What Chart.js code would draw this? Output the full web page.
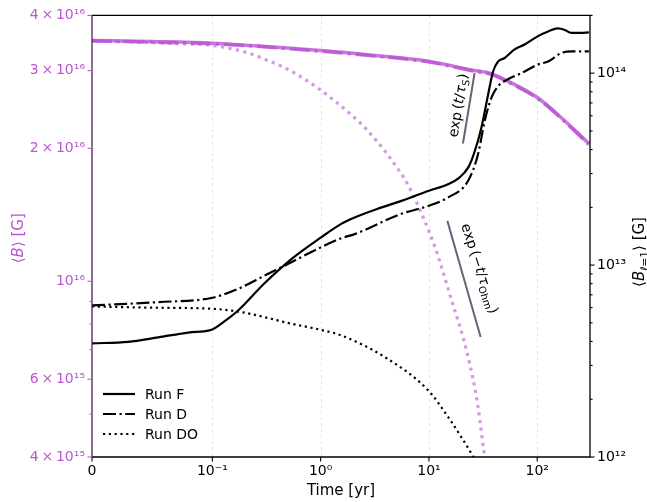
<!DOCTYPE html>
<html><head><meta charset="utf-8">
<script src="https://cdn.jsdelivr.net/npm/chart.js@4.4.0/dist/chart.umd.min.js"></script>
<style>html,body{margin:0;padding:0;background:#fff;}#wrap{width:647px;height:502px;position:relative;}</style>
</head><body><div id="wrap"><canvas id="c"></canvas></div>
<script>
// ---------------- data ----------------
// Run F, <B_l=1> (right axis)
const timeF  = [0, 0.03, 0.055, 0.08, 0.1, 0.13, 0.173, 0.3, 0.54, 1.0, 1.55, 2.06, 3.5, 5.56, 10, 15, 19, 23, 26, 30.5, 35.2, 39.1, 43.5, 50, 61.8, 76.5, 101.6, 126, 155, 180, 206, 250, 300];
const blF    = [3.91e12, 3.98e12, 4.2e12, 4.45e12, 4.62e12, 5.1e12, 5.8e12, 7.99e12, 1.077e13, 1.39e13, 1.64e13, 1.77e13, 1.98e13, 2.16e13, 2.44e13, 2.64e13, 2.85e13, 3.22e13, 3.8e13, 5.2e13, 7.75e13, 1.02e14, 1.15e14, 1.2e14, 1.33e14, 1.41e14, 1.56e14, 1.65e14, 1.71e14, 1.68e14, 1.62e14, 1.62e14, 1.63e14];
// Run D, <B_l=1>
const timeD  = [0, 0.054, 0.1, 0.173, 0.304, 0.536, 1.01, 1.55, 2.06, 5.56, 10, 15, 23, 28.4, 32.7, 37.7, 43.5, 53.2, 71.4, 101.6, 126, 165, 206, 300];
const blD    = [6.16e12, 6.41e12, 6.76e12, 7.52e12, 8.82e12, 1.035e13, 1.24e13, 1.38e13, 1.45e13, 1.85e13, 2.04e13, 2.25e13, 2.75e13, 3.78e13, 5.63e13, 7.44e13, 8.56e13, 9.27e13, 1.0e14, 1.11e14, 1.15e14, 1.27e14, 1.30e14, 1.30e14];
// Run DO, <B_l=1>
const timeDO = [0, 0.05, 0.1, 0.185, 0.536, 1.0, 1.55, 3.9, 9.8, 15, 19.9, 24.6, 27];
const blDO   = [6.09e12, 6.0e12, 5.92e12, 5.69e12, 4.95e12, 4.6e12, 4.3e12, 3.32e12, 2.23e12, 1.62e12, 1.27e12, 1.045e12, 0.95e12];
// <B> (left axis)
const timeBF  = [0, 0.05, 0.1, 1.0, 3, 9.8, 24.6, 37.7, 51.8, 101.6, 179, 300];
const bF      = [3.51e16, 3.49e16, 3.46e16, 3.33e16, 3.25e16, 3.15e16, 3.01e16, 2.95e16, 2.85e16, 2.60e16, 2.31e16, 2.05e16];
const timeBD  = [0, 0.05, 0.1, 1.0, 3, 9.8, 24.6, 37.7, 51.8, 101.6, 179, 300];
const bD      = [3.50e16, 3.48e16, 3.45e16, 3.32e16, 3.24e16, 3.14e16, 3.0e16, 2.94e16, 2.84e16, 2.59e16, 2.30e16, 2.04e16];
const timeBDO = [0, 0.05, 0.074, 0.1, 0.214, 0.327, 0.434, 0.664, 1.35, 2.73, 5.56, 6.86, 11.3, 15.5, 23, 28.4, 32.3, 35];
const bDO     = [3.51e16, 3.47e16, 3.45e16, 3.42e16, 3.29e16, 3.16e16, 3.07e16, 2.90e16, 2.56e16, 2.19e16, 1.75e16, 1.6e16, 1.20e16, 9.37e15, 6.74e15, 5.2e15, 4.08e15, 3.6e15];
// reference slopes
const growthT = [20.6, 26.4];   const growthB = [4.3e13, 1.0e14];   // right axis
const ohmT    = [14.8, 30.0];   const ohmB    = [1.37e16, 7.48e15]; // left axis
// ticks
const xTickValues = [0, 0.1, 1, 10, 100];
const xTickLabels = ['0', '10\u207B\u00B9', '10\u2070', '10\u00B9', '10\u00B2'];
const leftTickValues  = [4e15, 5e15, 6e15, 7e15, 8e15, 9e15, 1e16, 2e16, 3e16, 4e16];
const leftLabelValues = [4e15, 6e15, 1e16, 2e16, 3e16, 4e16];
const leftLabelTexts  = ['4\u2009\u00D7\u200910\u00B9\u2075', '6\u2009\u00D7\u200910\u00B9\u2075', '10\u00B9\u2076', '2\u2009\u00D7\u200910\u00B9\u2076', '3\u2009\u00D7\u200910\u00B9\u2076', '4\u2009\u00D7\u200910\u00B9\u2076'];
const rightTickValues  = [1e12,2e12,3e12,4e12,5e12,6e12,7e12,8e12,9e12,1e13,2e13,3e13,4e13,5e13,6e13,7e13,8e13,9e13,1e14,2e14];
const rightLabelValues = [1e12, 1e13, 1e14];
const rightLabelTexts  = ['10\u00B9\u00B2', '10\u00B9\u00B3', '10\u00B9\u2074'];
const legendNames = ['Run F', 'Run D', 'Run DO'];

// ---------------- styles ----------------
const FAM = "'DejaVu Sans'";
const PURPLE_TXT = '#BA55D3';
const PURPLE = 'rgba(186,85,211,0.8)';
const PURPLE_LIGHT = 'rgba(186,85,211,0.6)';
const GRAY = '#5b6876';
const DASHDOT = [13, 3.5, 2.2, 3.5];
const DOTTED = [2.2, 3.6];

// ---------------- symlog scale ----------------
class SymlogScale extends Chart.Scale {
  static id = 'symlog';
  static defaults = {};
  _tf(v) {
    const lt = this.options.linthresh || 0.1, ls = this.options.linscale || 1;
    const adj = ls / (1 - 1 / 10);
    const a = Math.abs(v);
    const r = a <= lt ? a / lt * adj : adj + Math.log10(a / lt);
    return Math.sign(v) * r;
  }
  _inv(r) {
    const lt = this.options.linthresh || 0.1, ls = this.options.linscale || 1;
    const adj = ls / (1 - 1 / 10);
    const a = Math.abs(r);
    const v = a <= adj ? a / adj * lt : lt * Math.pow(10, a - adj);
    return Math.sign(r) * v;
  }
  determineDataLimits() {
    const mm = this.getMinMax(false);
    this.min = Number.isFinite(this.options.min) ? this.options.min : mm.min;
    this.max = Number.isFinite(this.options.max) ? this.options.max : mm.max;
  }
  buildTicks() { return xTickValues.map(v => ({ value: v })); }
  getLabelForValue(v) { return String(v); }
  configure() {
    super.configure();
    this._t0 = this._tf(this.min);
    this._t1 = this._tf(this.max);
  }
  getPixelForValue(v) {
    if (v === null || isNaN(v)) return NaN;
    return this.getPixelForDecimal((this._tf(v) - this._t0) / (this._t1 - this._t0));
  }
  getValueForPixel(p) {
    return this._inv(this._t0 + this.getDecimalForPixel(p) * (this._t1 - this._t0));
  }
}
Chart.register(SymlogScale);

function pts(t, b) { return t.map((x, i) => ({ x: x, y: b[i] })); }
function ds(label, t, b, axis, color, width, dash) {
  return { label, data: pts(t, b), yAxisID: axis, xAxisID: 'x', borderColor: color, borderWidth: width,
    borderDash: dash || [], borderCapStyle: 'butt', pointRadius: 0, fill: false, cubicInterpolationMode: 'monotone' };
}
function findLabel(v, vals, texts) {
  for (let i = 0; i < vals.length; i++) if (Math.abs(v / vals[i] - 1) < 1e-6) return texts[i];
  return '';
}
function isLabeled(v, vals) { return vals.some(a => Math.abs(v / a - 1) < 1e-6); }

function richWidth(ctx, parts) { let w = 0; for (const p of parts) { ctx.font = p.font; w += ctx.measureText(p.text).width; } return w; }
function drawRich(ctx, parts, x, y, angleDeg, color) {
  ctx.save();
  ctx.translate(x, y); ctx.rotate(angleDeg * Math.PI / 180);
  ctx.fillStyle = color; ctx.textBaseline = 'alphabetic'; ctx.textAlign = 'left';
  let cx = -richWidth(ctx, parts) / 2;
  for (const p of parts) { ctx.font = p.font; ctx.fillText(p.text, cx, 5 + (p.dy || 0)); cx += ctx.measureText(p.text).width; }
  ctx.restore();
}
const nf = s => s + 'px ' + FAM, itf = s => 'italic ' + s + 'px ' + FAM;

const decorPlugin = {
  id: 'decor',
  beforeDatasetsDraw(chart) {
    const { ctx, chartArea: a, scales: { x } } = chart;
    ctx.save();
    ctx.strokeStyle = '#dcdcdc'; ctx.lineWidth = 0.8; ctx.setLineDash([3, 3]);
    for (const v of xTickValues) {
      if (v === 0) continue;
      const px = Math.round(x.getPixelForValue(v)) + 0.5;
      ctx.beginPath(); ctx.moveTo(px, a.top); ctx.lineTo(px, a.bottom); ctx.stroke();
    }
    ctx.restore();
  },
  afterDatasetsDraw(chart) {
    const { ctx, chartArea: a, scales: { x, yL, yR } } = chart;
    ctx.save();
    // spines
    ctx.lineWidth = 1.3; ctx.setLineDash([]);
    ctx.strokeStyle = '#000';
    ctx.beginPath(); ctx.moveTo(a.left, a.top); ctx.lineTo(a.right, a.top); ctx.lineTo(a.right, a.bottom); ctx.lineTo(a.left, a.bottom); ctx.stroke();
    ctx.strokeStyle = '#4a1f56';
    ctx.beginPath(); ctx.moveTo(a.left, a.top); ctx.lineTo(a.left, a.bottom); ctx.stroke();
    // ticks
    ctx.lineWidth = 1.1;
    ctx.strokeStyle = '#000';
    for (const v of xTickValues) { const px = x.getPixelForValue(v); ctx.beginPath(); ctx.moveTo(px, a.bottom); ctx.lineTo(px, a.bottom + 4.5); ctx.stroke(); }
    for (const v of rightTickValues) { const py = yR.getPixelForValue(v); const L = isLabeled(v, rightLabelValues) ? 4.5 : 2.6; ctx.beginPath(); ctx.moveTo(a.right, py); ctx.lineTo(a.right + L, py); ctx.stroke(); }
    ctx.strokeStyle = PURPLE_TXT;
    for (const v of leftTickValues) { const py = yL.getPixelForValue(v); const L = isLabeled(v, leftLabelValues) ? 4.5 : 2.6; ctx.beginPath(); ctx.moveTo(a.left - L, py); ctx.lineTo(a.left, py); ctx.stroke(); }
    ctx.restore();

    // annotation texts
    const gPos = { x: x.getPixelForValue(18.4), y: yR.getPixelForValue(6.8e13) };
    drawRich(ctx, [{ text: 'exp\u2009(', font: nf(14) }, { text: 't', font: itf(14) }, { text: '/', font: nf(14) }, { text: '\u03C4', font: itf(14) }, { text: 'S', font: nf(10), dy: 3 }, { text: ')', font: nf(14) }], gPos.x, gPos.y, -81, '#000');
    const oPos = { x: x.getPixelForValue(29.8), y: yL.getPixelForValue(1.07e16) };
    drawRich(ctx, [{ text: 'exp\u2009(\u2212', font: nf(14) }, { text: 't', font: itf(14) }, { text: '/', font: nf(14) }, { text: '\u03C4', font: itf(14) }, { text: 'Ohm', font: nf(10), dy: 3 }, { text: ')', font: nf(14) }], oPos.x, oPos.y, 72, '#000');

    // axis titles
    drawRich(ctx, [{ text: 'Time [yr]', font: nf(15) }], (a.left + a.right) / 2, 490, 0, '#000');
    drawRich(ctx, [{ text: '\u27E8', font: nf(15) }, { text: 'B', font: itf(15) }, { text: '\u27E9 [G]', font: nf(15) }], 18, (a.top + a.bottom) / 2 + 2, -90, PURPLE_TXT);
    drawRich(ctx, [{ text: '\u27E8', font: nf(15) }, { text: 'B', font: itf(15) }, { text: '\u2113=1', font: nf(10.5), dy: 3.5 }, { text: '\u27E9 [G]', font: nf(15) }], 639, 252, -90, '#000');

    // legend
    const dashes = [[], DASHDOT, DOTTED];
    const ly = [394, 414, 434];
    ctx.save();
    for (let i = 0; i < 3; i++) {
      ctx.strokeStyle = '#000'; ctx.lineWidth = 2.2; ctx.lineCap = 'butt'; ctx.setLineDash(dashes[i]);
      ctx.beginPath(); ctx.moveTo(103, ly[i]); ctx.lineTo(135, ly[i]); ctx.stroke();
      ctx.setLineDash([]);
      ctx.fillStyle = '#000'; ctx.font = nf(14); ctx.textBaseline = 'middle'; ctx.textAlign = 'left';
      ctx.fillText(legendNames[i], 145, ly[i] + 1);
    }
    ctx.restore();
  }
};

const tickFont = { family: FAM, size: 14 };
new Chart(document.getElementById('c'), {
  type: 'line',
  data: {
    datasets: [
      ds('Run F', timeF, blF, 'yR', '#000', 2.2, []),
      ds('Run D', timeD, blD, 'yR', '#000', 2.2, DASHDOT),
      ds('Run DO', timeDO, blDO, 'yR', '#000', 2.2, DOTTED),
      ds('growth', growthT, growthB, 'yR', GRAY, 2, []),
      ds('ohm', ohmT, ohmB, 'yL', GRAY, 2, []),
      ds('B F', timeBF, bF, 'yL', PURPLE, 3.5, []),
      ds('B D', timeBD, bD, 'yL', PURPLE, 3.5, [20, 5, 3, 5]),
      ds('B DO', timeBDO, bDO, 'yL', PURPLE_LIGHT, 3.2, [3.2, 4.4])
    ]
  },
  options: {
    responsive: true, maintainAspectRatio: false, animation: false,
    layout: { padding: { top: 14, left: 0, right: 0, bottom: 0 } },
    plugins: { legend: { display: false }, tooltip: { enabled: false } },
    scales: {
      x: { type: 'symlog', position: 'bottom', min: 0, max: 307, linthresh: 0.1, linscale: 1,
        grid: { display: false, drawTicks: false }, border: { display: false },
        ticks: { autoSkip: false, maxRotation: 0, padding: 6, color: '#000', font: tickFont, callback: (v, i) => xTickLabels[i] },
        afterFit: s => { s.height = 45; } },
      yL: { type: 'logarithmic', position: 'left', min: 4e15, max: 4e16,
        grid: { display: false, drawTicks: false }, border: { display: false },
        afterBuildTicks: s => { s.ticks = leftTickValues.map(v => ({ value: v })); },
        ticks: { autoSkip: false, padding: 7, color: PURPLE_TXT, font: tickFont, callback: v => findLabel(v, leftLabelValues, leftLabelTexts) },
        afterFit: s => { s.width = 92; } },
      yR: { type: 'logarithmic', position: 'right', min: 1e12, max: 2e14,
        grid: { display: false, drawTicks: false }, border: { display: false },
        afterBuildTicks: s => { s.ticks = rightTickValues.map(v => ({ value: v })); },
        ticks: { autoSkip: false, padding: 7, color: '#000', font: tickFont, callback: v => findLabel(v, rightLabelValues, rightLabelTexts) },
        afterFit: s => { s.width = 57; } }
    }
  },
  plugins: [decorPlugin]
});
</script></body></html>
